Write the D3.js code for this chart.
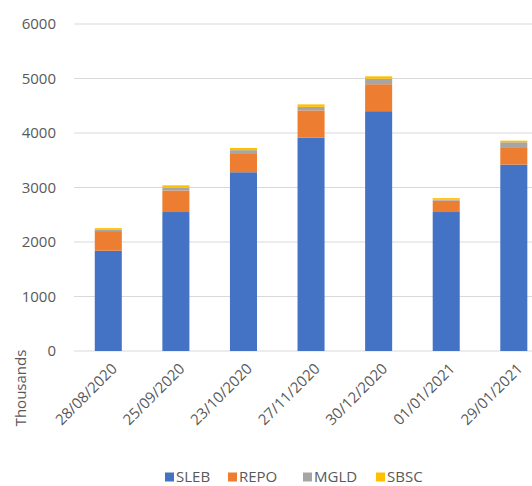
<!DOCTYPE html>
<html>
<head>
<meta charset="utf-8">
<script src="https://cdn.jsdelivr.net/npm/d3@7"></script>
<style>
  body { margin: 0; background: #fff; }
  text { font-family: "Open Sans", sans-serif; fill: #595959; }
</style>
</head>
<body>
<div id="chartArea"></div>
<script>
var dates = ['28/08/2020','25/09/2020','23/10/2020','27/11/2020','30/12/2020','01/01/2021','29/01/2021'];
var seriesNames = ['SLEB','REPO','MGLD','SBSC'];
var seriesColors = ['#4472C4','#ED7D31','#A5A5A5','#FFC000'];

// values in thousands
var sleb = [1840, 2550, 3280, 3915, 4400, 2550, 3420];
var repo = [360, 395, 350, 500, 495, 210, 320];
var mgld = [30, 50, 55, 65, 100, 20, 90];
var sbsc = [25, 45, 40, 45, 45, 25, 30];
var yTicks = [0, 1000, 2000, 3000, 4000, 5000, 6000];

var width = 532, height = 486;

var svg = d3.select('#chartArea').append('svg')
  .attr('width', width)
  .attr('height', height);

var x = d3.scaleBand().domain(dates).range([74.5, 547.6]).paddingInner(0.6).paddingOuter(0.3);
var y = d3.scaleLinear().domain([0, 6000]).range([351, 24]);

// build rows for the stack
var rows = dates.map(function(d, i){
  return { date: d, SLEB: sleb[i], REPO: repo[i], MGLD: mgld[i], SBSC: sbsc[i] };
});
var stacked = d3.stack().keys(seriesNames)(rows);

// gridlines
svg.append('g').selectAll('line')
  .data(yTicks)
  .enter().append('line')
  .attr('x1', 74).attr('x2', width)
  .attr('y1', function(d){ return y(d); })
  .attr('y2', function(d){ return y(d); })
  .attr('stroke', '#D9D9D9')
  .attr('stroke-width', 1);

// y axis labels
var yAxis = d3.axisLeft(y).tickValues(yTicks).tickFormat(d3.format('d')).tickSize(0).tickPadding(0);
var yg = svg.append('g').attr('transform', 'translate(56,0)').call(yAxis);
yg.select('.domain').remove();
yg.selectAll('text').style('font-size', '15px').style('font-family', '"Open Sans", sans-serif').attr('fill', '#595959');

// bars
svg.append('g').selectAll('g')
  .data(stacked)
  .enter().append('g')
  .attr('fill', function(d, i){ return seriesColors[i]; })
  .selectAll('rect')
  .data(function(d){ return d; })
  .enter().append('rect')
  .attr('x', function(d){ return x(d.data.date); })
  .attr('y', function(d){ return y(d[1]); })
  .attr('width', x.bandwidth())
  .attr('height', function(d){ return y(d[0]) - y(d[1]); });

// x labels
svg.append('g').selectAll('text')
  .data(dates)
  .enter().append('text')
  .attr('transform', function(d){
    return 'translate(' + (x(d) + x.bandwidth()/2 + 6) + ',366) rotate(-45)';
  })
  .attr('text-anchor', 'end')
  .attr('dy', '0.35em')
  .style('font-size', '15px')
  .text(function(d){ return d; });

// axis title
svg.append('text')
  .attr('transform', 'translate(21,388) rotate(-90)')
  .attr('text-anchor', 'middle')
  .attr('dy', '0.35em')
  .style('font-size', '15px')
  .text('Thousands');

// legend
var legendX = [165, 228, 303, 376];
var legend = svg.append('g').selectAll('g')
  .data(seriesNames)
  .enter().append('g')
  .attr('transform', function(d, i){ return 'translate(' + legendX[i] + ',477)'; });
legend.append('rect')
  .attr('x', 0).attr('y', -4.5)
  .attr('width', 9).attr('height', 9)
  .attr('fill', function(d, i){ return seriesColors[i]; });
legend.append('text')
  .attr('x', 11)
  .attr('dy', '0.35em')
  .style('font-size', '15px')
  .text(function(d){ return d; });
</script>
</body>
</html>
